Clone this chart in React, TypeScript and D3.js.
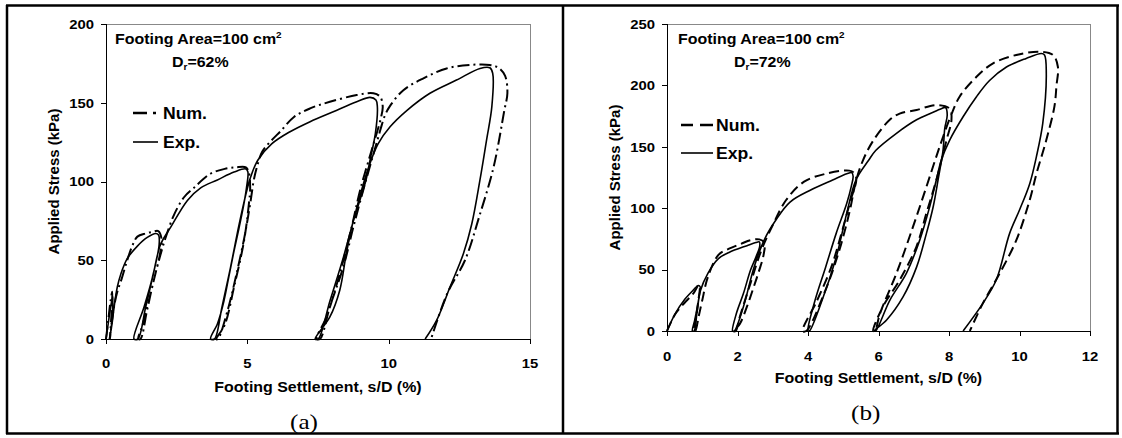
import React from "react";
import * as d3 from "d3";

type Pt = [number, number];

// ---------- Panel (a): Dr = 62% ----------
const numA: Pt[] = [
  [0, 0], [0.08, 12], [0.16, 24], [0.22, 30], [0.2, 18], [0.16, 6], [0.14, 0], [0.2, 10], [0.3, 22], [0.4, 30], [0.55, 38], [0.75, 50], [0.95, 60], [1.11, 65], [1.4, 67], [1.64, 68], [1.85, 68.5], [1.96, 64], [1.92, 55], [1.7, 38], [1.48, 22], [1.28, 8], [1.14, 0],
  [1.22, 0], [1.45, 18], [1.7, 38], [1.95, 55], [2.12, 65], [2.41, 79], [2.76, 90], [3.11, 96], [3.7, 105], [4.2, 108], [4.6, 109], [4.95, 109], [5.05, 106], [5.1, 96], [5.05, 85], [4.88, 62], [4.53, 33], [4.2, 9], [3.9, 0],
  [3.96, 0], [4.3, 18], [4.6, 40], [4.9, 65], [5.12, 88], [5.22, 100], [5.32, 108], [5.53, 119], [5.85, 126], [6.18, 132], [6.65, 141], [7.22, 146.4], [7.92, 150.6], [8.87, 154.9], [9.46, 156], [9.7, 153.8], [9.79, 147.5], [9.72, 140], [9.4, 120], [8.99, 94.5], [8.69, 71], [8.27, 41.5], [7.8, 14], [7.45, 0],
  [7.57, 0], [7.93, 21], [8.4, 46], [8.75, 71], [9.1, 94.5], [9.4, 113.6], [9.63, 128], [9.87, 142], [10.05, 148], [10.52, 158], [11.23, 165.5], [12.05, 171.8], [12.87, 174], [13.58, 174], [13.9, 172], [14.12, 167], [14.2, 156], [14.09, 145], [13.71, 109], [13.2, 77.5], [12.7, 50], [12.07, 28.8], [11.5, 0],
];
const expA: Pt[] = [
  [0, 0], [0.08, 10], [0.16, 20], [0.24, 27], [0.22, 15], [0.17, 5], [0.12, 0], [0.2, 8], [0.3, 22], [0.4, 33], [0.52, 41], [0.75, 51], [1.11, 59], [1.46, 64.5], [1.76, 67], [1.86, 66], [1.88, 60], [1.64, 39], [1.34, 20], [0.99, 0],
  [1.13, 0], [1.4, 20], [1.66, 40], [1.93, 60], [2.29, 71], [2.88, 88], [3.35, 96], [3.94, 101], [4.53, 106], [4.95, 108], [5.02, 106], [4.97, 96], [4.88, 86], [4.7, 70], [4.53, 56], [4.35, 40], [4.17, 24], [3.95, 10], [3.7, 0],
  [3.84, 0], [4.1, 20], [4.4, 45], [4.7, 72], [4.95, 92], [5.12, 103], [5.37, 113.5], [5.87, 124], [6.51, 131.6], [7.22, 138], [8.04, 144.3], [8.87, 150.6], [9.34, 153.4], [9.55, 151.7], [9.6, 147.5], [9.53, 130.5], [9.34, 113.6], [9.2, 101], [8.98, 88], [8.75, 75], [8.5, 54], [8.27, 31], [7.92, 14], [7.4, 0],
  [7.51, 0], [7.93, 24.6], [8.4, 52], [8.75, 75], [9.04, 94.5], [9.34, 111.5], [9.63, 124], [10.05, 134.7], [10.64, 145], [11.46, 156], [12.4, 164.4], [13.23, 171.8], [13.58, 172.2], [13.68, 168.7], [13.65, 147.5], [13.46, 126], [13.23, 101], [12.94, 73], [12.64, 54], [12.17, 33], [11.7, 12], [11.29, 0],
];
const xTicksA = [0, 5, 10, 15];
const yTicksA = [0, 50, 100, 150, 200];

// ---------- Panel (b): Dr = 72% ----------
const numB: Pt[] = [
  [0, 0], [0.24, 14], [0.5, 23], [0.75, 30.7], [0.9, 37.5], [0.93, 35], [0.89, 25], [0.83, 12], [0.76, 0],
  [0.8, 0], [0.9, 12], [1.0, 25], [1.16, 44], [1.46, 62], [1.76, 67], [2.1, 71], [2.37, 74], [2.62, 74.6], [2.76, 72], [2.74, 62], [2.6, 48], [2.45, 35], [2.27, 20], [2.07, 6], [1.9, 0],
  [1.95, 0], [2.07, 12], [2.37, 39], [2.68, 66], [2.98, 85], [3.38, 106.7], [3.89, 121.6], [4.5, 128], [5.17, 130.6], [5.32, 128.4], [5.37, 123], [5.21, 106.7], [4.95, 79.5], [4.66, 52], [4.26, 25], [3.85, 0],
  [3.95, 0], [4.46, 30.7], [4.86, 63], [5.17, 96], [5.37, 123], [5.56, 139], [5.85, 155], [6.32, 172], [6.6, 177], [7.08, 180], [7.64, 184], [8.02, 181], [8.07, 172], [7.93, 155.5], [7.64, 123], [7.36, 96], [7.08, 69], [6.6, 41.5], [6.13, 20], [5.85, 0],
  [5.9, 0], [6.04, 14], [6.51, 47], [6.98, 85], [7.36, 117.5], [7.64, 142], [7.83, 158], [8.05, 175], [8.3, 190.8], [8.78, 207], [9.25, 218], [9.91, 224.8], [10.57, 227.4], [10.95, 224.8], [11.09, 215], [11.05, 200], [10.99, 182.7], [10.76, 155.5], [10.48, 128], [10.29, 106.7], [9.91, 74], [9.44, 47], [8.96, 22.5], [8.59, 0],
];
const expB: Pt[] = [
  [0, 0], [0.23, 14], [0.51, 26], [0.7, 32], [0.89, 37], [0.94, 36], [0.91, 28], [0.85, 18], [0.78, 8], [0.72, 0],
  [0.77, 0], [0.85, 15], [0.95, 33], [1.16, 47], [1.46, 59], [1.76, 64], [2.27, 69.5], [2.52, 72], [2.62, 72.5], [2.63, 69], [2.52, 60], [2.37, 49.7], [2.17, 30.7], [1.97, 14.4], [1.86, 0],
  [1.91, 0], [2.17, 20], [2.47, 52], [2.78, 75.5], [3.08, 90], [3.49, 105], [4.09, 115], [4.7, 123], [5.1, 128], [5.24, 129], [5.28, 126], [5.23, 118], [5.1, 104], [4.8, 79.5], [4.5, 52], [4.2, 25], [4.0, 0],
  [4.04, 0], [4.4, 25], [4.8, 60], [5.1, 96], [5.36, 123], [5.72, 139], [5.92, 147], [6.51, 161], [7.08, 172], [7.5, 177.5], [7.78, 181], [7.9, 182], [7.95, 176], [7.88, 165], [7.83, 147], [7.69, 123], [7.55, 101], [7.36, 79.5], [7.08, 52], [6.7, 28], [6.23, 9], [5.88, 0],
  [5.92, 0], [6.32, 25], [6.79, 47], [7.17, 74], [7.45, 101], [7.64, 123], [7.78, 139], [8.02, 155.5], [8.4, 174.5], [8.78, 190.8], [9.15, 204], [9.63, 215], [10.19, 222], [10.62, 226], [10.71, 224.8], [10.76, 210], [10.66, 169], [10.48, 142], [10.29, 120], [10.0, 98.5], [9.72, 79.5], [9.34, 41.5], [8.96, 22.5], [8.4, 0],
];
const xTicksB = [0, 2, 4, 6, 8, 10, 12];
const yTicksB = [0, 50, 100, 150, 200, 250];

const SANS = "'Liberation Sans', Arial, sans-serif";
const SERIF = "'Liberation Serif', 'Times New Roman', serif";
const SX = 1.1;

function T(props: {
  x: number; y: number; size: number; anchor?: string; weight?: string | number;
  family?: string; sx?: number; children: React.ReactNode;
}) {
  const { x, y, size, anchor = "start", weight = "bold", family = SANS, sx = SX, children } = props;
  return (
    <g transform={`translate(${x},${y}) scale(${sx},1)`}>
      <text x={0} y={size * 0.36} textAnchor={anchor as any} fontSize={size} fontWeight={weight} fontFamily={family} fill="#000">
        {children}
      </text>
    </g>
  );
}

interface PanelCfg {
  num: Pt[]; exp: Pt[]; xTicks: number[]; yTicks: number[];
  left: number; right: number; top: number; bottom: number;
  dr: string; letter: string; numDash: string; legDash: string;
  annX: number; drX: number; legLineX: [number, number]; legTextX: number; legNumY: number; legExpY: number;
  xLabY: number; xTitleY: number; letterX: number; letterY: number; yTitleX: number;
}

function Panel({ c }: { c: PanelCfg }) {
  const xMax = c.xTicks[c.xTicks.length - 1];
  const yMax = c.yTicks[c.yTicks.length - 1];
  const x = d3.scaleLinear().domain([0, xMax]).range([c.left, c.right]);
  const y = d3.scaleLinear().domain([0, yMax]).range([c.bottom, c.top]);
  const line = d3.line<Pt>().x((d) => x(d[0])).y((d) => y(d[1])).curve(d3.curveCatmullRom.alpha(0.5));
  const cx = (c.left + c.right) / 2;
  const cy = (c.top + c.bottom) / 2;
  return (
    <g>
      <line x1={c.left} x2={c.right} y1={c.top + 0.5} y2={c.top + 0.5} stroke="#888" strokeWidth={1} />
      <line x1={c.right + 0.5} x2={c.right + 0.5} y1={c.top} y2={c.bottom} stroke="#888" strokeWidth={1} />
      <path d={line(c.exp) || ""} fill="none" stroke="#000" strokeWidth={1.6} strokeLinejoin="round" />
      <path d={line(c.num) || ""} fill="none" stroke="#000" strokeWidth={2} strokeDasharray={c.numDash} />
      <line x1={c.left + 0.5} x2={c.left + 0.5} y1={c.top} y2={c.bottom} stroke="#000" strokeWidth={1} />
      <line x1={c.left} x2={c.right} y1={c.bottom + 0.5} y2={c.bottom + 0.5} stroke="#000" strokeWidth={1} />
      {c.yTicks.map((t) => (
        <g key={"y" + t}>
          <line x1={c.left - 5} x2={c.left} y1={Math.round(y(t)) + 0.5} y2={Math.round(y(t)) + 0.5} stroke="#000" />
          <T x={c.left - 12} y={y(t)} size={13.5} anchor="end">{t}</T>
        </g>
      ))}
      {c.xTicks.map((t) => (
        <g key={"x" + t}>
          <line x1={Math.round(x(t)) + 0.5} x2={Math.round(x(t)) + 0.5} y1={c.bottom} y2={c.bottom + 5} stroke="#000" />
          <T x={x(t)} y={c.xLabY} size={13.5} anchor="middle">{t}</T>
        </g>
      ))}
      <T x={cx} y={c.xTitleY} size={14.5} anchor="middle">Footing Settlement, s/D (%)</T>
      <g transform={`translate(${c.yTitleX},${cy}) rotate(-90)`}>
        <text x={0} y={15 * 0.36} textAnchor="middle" fontSize={15} fontWeight="bold" fontFamily={SANS}>Applied Stress (kPa)</text>
      </g>
      <T x={c.annX} y={39} size={14.5}>
        Footing Area=100 cm<tspan fontSize={9} dy={-6}>2</tspan>
      </T>
      <T x={c.drX} y={62} size={14.5}>
        D<tspan fontSize={9} dy={3}>r</tspan><tspan dy={-3}>={c.dr}</tspan>
      </T>
      <line x1={c.legLineX[0]} x2={c.legLineX[1]} y1={c.legNumY} y2={c.legNumY} stroke="#000" strokeWidth={2.4} strokeDasharray={c.legDash} />
      <T x={c.legTextX} y={c.legNumY} size={16}>Num.</T>
      <line x1={c.legLineX[0]} x2={c.legLineX[1]} y1={c.legExpY} y2={c.legExpY} stroke="#000" strokeWidth={1.6} />
      <T x={c.legTextX} y={c.legExpY} size={16}>Exp.</T>
      <T x={c.letterX} y={c.letterY} size={21} weight="normal" family={SERIF} sx={1.2}>{c.letter}</T>
    </g>
  );
}

const cfgA: PanelCfg = {
  num: numA, exp: expA, xTicks: xTicksA, yTicks: yTicksA,
  left: 106, right: 530, top: 24, bottom: 339,
  dr: "62%", letter: "(a)", numDash: "12,4,2,4", legDash: "14,6,3,10",
  annX: 115, drX: 172, legLineX: [133, 158], legTextX: 163, legNumY: 113, legExpY: 142,
  xLabY: 363, xTitleY: 387, letterX: 290, letterY: 421, yTitleX: 54,
};
const cfgB: PanelCfg = {
  num: numB, exp: expB, xTicks: xTicksB, yTicks: yTicksB,
  left: 667, right: 1090, top: 24, bottom: 331,
  dr: "72%", letter: "(b)", numDash: "10,5", legDash: "12,7,13,10",
  annX: 678, drX: 734, legLineX: [681, 713], legTextX: 716, legNumY: 125, legExpY: 153,
  xLabY: 356, xTitleY: 378, letterX: 851, letterY: 412, yTitleX: 615,
};

export default function App() {
  return (
    <svg width={1122} height={438} style={{ position: "absolute", left: 0, top: 0, background: "#fff" }}>
      <rect x={0} y={0} width={1122} height={438} fill="#fff" />
      <line x1={6} x2={1119} y1={5.5} y2={5.5} stroke="#000" strokeWidth={2.5} />
      <line x1={6} x2={1119} y1={433.5} y2={433.5} stroke="#000" strokeWidth={2.5} />
      <line x1={7} x2={7} y1={5} y2={434} stroke="#000" strokeWidth={2.5} />
      <line x1={563} x2={563} y1={5} y2={434} stroke="#000" strokeWidth={2.5} />
      <line x1={1117.5} x2={1117.5} y1={5} y2={434} stroke="#000" strokeWidth={2.5} />
      <Panel c={cfgA} />
      <Panel c={cfgB} />
    </svg>
  );
}
